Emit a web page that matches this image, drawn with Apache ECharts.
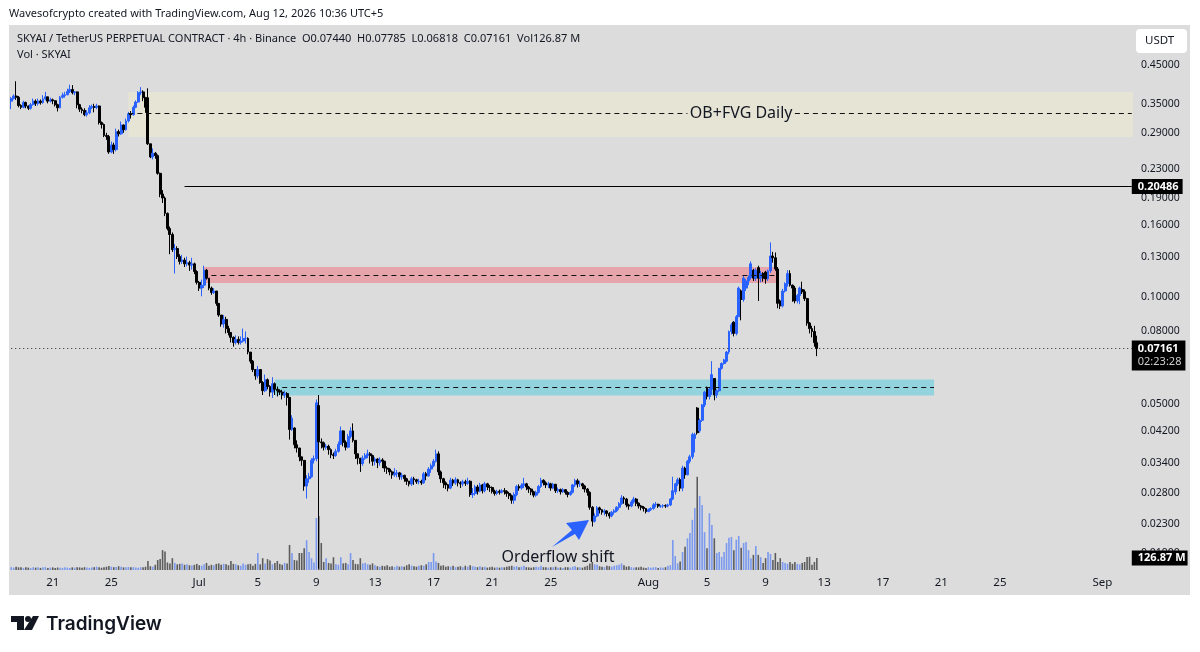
<!DOCTYPE html>
<html><head><meta charset="utf-8">
<style>html,body{margin:0;padding:0;background:#fff}#c{width:1200px;height:652px}</style>
<script src="https://cdn.jsdelivr.net/npm/echarts@6/dist/echarts.min.js"></script>
</head><body><div id="c"></div>
<script>
const closes=[
.3620,.3680,.3650,.3460,.3420,.3530,.3450,.3400,.3480,.3560,
.3510,.3560,.3530,.3610,.3660,.3560,.3590,.3570,.3480,.3410,
.3650,.3690,.3710,.3790,.3840,.3760,.3780,.3480,.3380,.3350,
.3260,.3300,.3410,.3440,.3420,.3450,.3100,.3060,.2850,.2830,
.2560,.2680,.2600,.2920,.2880,.3050,.2960,.3130,.3280,.3260,
.3420,.3540,.3760,.3780,.3640,.3420,.2700,.2480,.2540,.2500,
.2230,.1950,.1900,.1720,.1560,.1500,.1360,.1370,.1300,.1260,
.1270,.1240,.1250,.1230,.1240,.1180,.1100,.1060,.1080,.1190,
.1130,.1060,.1030,.1040,.0960,.0890,.0840,.0865,.0815,.0795,
.0770,.0745,.0760,.0745,.0752,.0765,.0765,.0700,.0660,.0625,
.0600,.0625,.0575,.0545,.0585,.0560,.0540,.0570,.0550,.0545,
.0540,.0530,.0535,.0522,.0424,.0456,.0384,.0376,.0355,.0347,
.0294,.0308,.0312,.0347,.0351,.0504,.0391,.0389,.0378,.0380,
.0372,.0360,.0358,.0368,.0385,.0420,.0390,.0378,.0405,.0420,
.0395,.0362,.0352,.0340,.0352,.0358,.0362,.0358,.0345,.0350,
.0342,.0348,.0345,.0330,.0328,.0322,.0316,.0318,.0320,.0312,
.0315,.0308,.0303,.0298,.0308,.0306,.0302,.0303,.0300,.0318,
.0314,.0328,.0335,.0345,.0362,.0322,.0308,.0300,.0296,.0290,
.0305,.0300,.0306,.0300,.0298,.0302,.0299,.0303,.0278,.0280,
.0292,.0284,.0296,.0285,.0298,.0292,.0291,.0284,.0280,.0284,
.0282,.0285,.0284,.0280,.0276,.0268,.0278,.0293,.0290,.0295,
.0298,.0292,.0288,.0283,.0277,.0282,.0293,.0305,.0300,.0296,
.0298,.0290,.0297,.0285,.0287,.0283,.0287,.0282,.0278,.0282,
.0296,.0304,.0298,.0298,.0294,.0288,.0282,.0256,.0234,.0242,
.0255,.0252,.0248,.0250,.0246,.0242,.0248,.0250,.0256,.0262,
.0272,.0270,.0260,.0258,.0265,.0270,.0263,.0258,.0256,.0254,
.0249,.0252,.0254,.0260,.0261,.0258,.0258,.0259,.0258,.0260,
.0270,.0285,.0298,.0306,.0290,.0330,.0316,.0345,.0355,.0410,
.0410,.0415,.0450,.0497,.0540,.0525,.0550,.0605,.0530,.0545,
.0630,.0650,.0665,.0700,.0800,.0835,.0790,.0880,.1060,.0985,
.1130,.1110,.1135,.1240,.1130,.1190,.1130,.1165,.1130,.1125,
.1185,.1305,.1290,.1200,.0960,.0945,.1040,.1090,.1165,.1080,
.1060,.0975,.1010,.1060,.1035,.0990,.0845,.0815,.0800,.0744,
.07161];
const highs=[
.3660,.3720,.4050,.3680,.3490,.3570,.3550,.3460,.3520,.3620,
.3600,.3620,.3600,.3700,.3780,.3660,.3640,.3620,.3580,.3500,
.3680,.3760,.3780,.3860,.3960,.3950,.3800,.3790,.3500,.3420,
.3400,.3360,.3470,.3480,.3500,.3500,.3460,.3120,.3080,.2900,
.2860,.2740,.2720,.2980,.2960,.3120,.3060,.3180,.3320,.3340,
.3460,.3580,.3800,.3900,.3820,.3660,.3870,.2700,.2620,.2560,
.2520,.2240,.2000,.1920,.1730,.1580,.1520,.1410,.1390,.1320,
.1315,.1290,.1300,.1265,.1290,.1250,.1190,.1110,.1120,.1225,
.1200,.1130,.1070,.1060,.1040,.0960,.0890,.0890,.0880,.0830,
.0795,.0775,.0780,.0775,.0775,.0815,.0800,.0770,.0700,.0665,
.0625,.0640,.0625,.0580,.0605,.0590,.0565,.0595,.0575,.0560,
.0550,.0548,.0545,.0540,.0522,.0465,.0430,.0395,.0376,.0355,
.0347,.0315,.0320,.0352,.0358,.0515,.0530,.0400,.0392,.0386,
.0384,.0375,.0365,.0374,.0392,.0432,.0422,.0395,.0412,.0430,
.0441,.0395,.0362,.0352,.0358,.0364,.0372,.0366,.0360,.0354,
.0352,.0354,.0352,.0346,.0334,.0330,.0325,.0330,.0326,.0322,
.0320,.0316,.0310,.0304,.0312,.0312,.0308,.0308,.0306,.0322,
.0322,.0332,.0340,.0350,.0372,.0368,.0325,.0310,.0303,.0298,
.0310,.0308,.0311,.0308,.0303,.0306,.0306,.0310,.0305,.0290,
.0296,.0296,.0300,.0298,.0302,.0300,.0296,.0293,.0287,.0287,
.0287,.0288,.0290,.0286,.0283,.0278,.0282,.0296,.0297,.0299,
.0310,.0300,.0294,.0290,.0285,.0285,.0296,.0310,.0307,.0303,
.0302,.0300,.0300,.0298,.0291,.0289,.0290,.0288,.0284,.0285,
.0298,.0308,.0308,.0304,.0300,.0296,.0290,.0284,.0258,.0246,
.0258,.0257,.0253,.0253,.0251,.0248,.0250,.0253,.0258,.0265,
.0277,.0275,.0272,.0262,.0268,.0274,.0272,.0264,.0260,.0258,
.0255,.0254,.0256,.0263,.0265,.0262,.0260,.0261,.0261,.0262,
.0272,.0312,.0300,.0310,.0310,.0335,.0333,.0348,.0360,.0415,
.0415,.0490,.0455,.0500,.0545,.0560,.0555,.0660,.0590,.0550,
.0632,.0655,.0670,.0705,.0805,.0845,.0855,.0890,.1070,.1050,
.1150,.1125,.1150,.1260,.1200,.1205,.1225,.1185,.1175,.1185,
.1195,.1425,.1340,.1335,.1215,.0985,.1055,.1100,.1190,.1190,
.1085,.1075,.1020,.1070,.1105,.1050,.0995,.0850,.0830,.0830,
.07785];
const lows=[
.3380,.3600,.3590,.3420,.3380,.3400,.3400,.3360,.3370,.3460,
.3450,.3460,.3480,.3500,.3580,.3510,.3530,.3490,.3440,.3330,
.3400,.3620,.3640,.3700,.3750,.3720,.3700,.3400,.3320,.3290,
.3230,.3220,.3270,.3380,.3310,.3380,.3060,.2980,.2820,.2770,
.2530,.2540,.2530,.2570,.2830,.2860,.2900,.2940,.3100,.3180,
.3240,.3400,.3520,.3700,.3560,.3300,.2680,.2460,.2440,.2450,
.2210,.1910,.1840,.1690,.1540,.1320,.1340,.1165,.1280,.1235,
.1240,.1215,.1220,.1185,.1195,.1160,.1085,.1040,.1005,.1060,
.1120,.1045,.1015,.1020,.0945,.0880,.0825,.0820,.0790,.0780,
.0745,.0725,.0735,.0735,.0735,.0745,.0740,.0690,.0650,.0615,
.0585,.0590,.0570,.0530,.0540,.0550,.0525,.0520,.0530,.0525,
.0530,.0515,.0520,.0495,.0397,.0420,.0375,.0365,.0345,.0335,
.0285,.0271,.0300,.0310,.0340,.0345,.0172,.0375,.0370,.0372,
.0360,.0352,.0350,.0355,.0365,.0385,.0380,.0370,.0375,.0400,
.0390,.0350,.0338,.0322,.0335,.0348,.0352,.0340,.0335,.0336,
.0330,.0335,.0330,.0322,.0318,.0315,.0308,.0312,.0311,.0306,
.0306,.0302,.0296,.0293,.0294,.0296,.0298,.0297,.0296,.0298,
.0305,.0312,.0320,.0332,.0342,.0315,.0300,.0290,.0288,.0284,
.0288,.0294,.0296,.0293,.0290,.0293,.0294,.0296,.0274,.0272,
.0276,.0278,.0282,.0280,.0282,.0286,.0283,.0280,.0276,.0277,
.0278,.0280,.0278,.0274,.0270,.0262,.0262,.0275,.0285,.0287,
.0290,.0286,.0281,.0277,.0273,.0274,.0280,.0290,.0295,.0290,
.0290,.0285,.0288,.0281,.0281,.0278,.0281,.0278,.0273,.0276,
.0280,.0292,.0291,.0292,.0288,.0282,.0276,.0252,.0226,.0232,
.0240,.0246,.0244,.0243,.0241,.0238,.0240,.0244,.0248,.0252,
.0260,.0262,.0256,.0252,.0256,.0262,.0258,.0254,.0251,.0249,
.0246,.0248,.0250,.0252,.0256,.0255,.0255,.0255,.0255,.0256,
.0258,.0268,.0278,.0294,.0284,.0284,.0308,.0315,.0340,.0350,
.0365,.0410,.0415,.0445,.0490,.0515,.0515,.0530,.0512,.0520,
.0540,.0625,.0645,.0655,.0690,.0785,.0775,.0780,.0880,.0860,
.0970,.1040,.1080,.1120,.1110,.1110,.0975,.1100,.1105,.1090,
.1110,.1170,.1250,.1185,.0930,.0925,.0935,.1030,.1070,.1070,
.0970,.0960,.0960,.0955,.1020,.0975,.0830,.0790,.0770,.0725,
.06818];
const gappedOpens=[[0,.3560],[56,.3640],[116,.0428],[126,.0495],[272,.0283],[280,.0400],[281,.0487],[282,.0420],[285,.0555],[288,.0590],[293,.0660],[296,.0850],[299,.1040],[301,.1060],[304,.1190],[306,.1210],[309,.1175],[315,.0975],[324,.1050]];
const volumes=[
30,25,35,28,30,22,30,25,20,28,
25,30,22,28,30,22,25,28,20,26,
24,22,30,25,22,28,25,30,28,24,
30,26,22,28,30,35,28,24,30,35,
42,35,30,32,40,35,28,30,32,28,
30,26,24,30,28,35,95,40,35,55,
105,115,210,195,80,70,125,75,60,65,
70,55,60,50,48,55,65,50,45,60,
75,45,55,50,65,70,55,65,60,50,
95,65,60,50,45,70,55,60,65,45,
65,180,60,125,70,115,100,60,75,95,
65,55,75,70,265,180,105,100,180,180,
230,315,190,125,80,550,570,285,85,125,
75,70,135,60,55,135,70,75,60,180,
105,65,60,125,70,75,60,55,70,50,
40,35,45,40,50,35,40,30,45,35,
40,35,50,60,45,40,35,45,50,45,
60,85,85,180,90,75,45,50,35,40,
35,45,30,35,40,30,45,35,50,40,
35,30,40,30,35,25,30,35,25,30,
25,30,28,35,40,45,35,40,30,35,
45,30,28,25,30,35,30,45,30,28,
25,30,28,35,25,28,22,30,28,25,
35,40,28,30,25,35,45,70,85,60,
55,40,35,30,45,40,35,45,50,55,
70,50,35,40,30,25,30,28,35,25,
22,30,25,28,30,22,28,25,30,45,
50,317,148,70,90,190,245,335,390,530,
655,985,782,687,400,230,600,475,335,180,
190,140,190,285,340,350,210,320,360,235,
285,295,210,125,160,255,160,135,75,125,
190,170,105,180,85,125,85,75,65,85,
65,85,65,60,75,85,137,140,55,85,
126.87];
const priceTicks=[0.45,0.35,0.29,0.23,0.19,0.16,0.13,0.10,0.08,0.05,0.042,0.034,0.028,0.023,0.019];
const dateTickBars=[17,41,77,101,125,149,173,197,221,261,285,309,333,357,381,405,447];
const dateTickLabels=['21','25','Jul','5','9','13','17','21','25','Aug','5','9','13','17','21','25','Sep'];
const barCount=460;
const categories=Array.from({length:barCount},(_,i)=>String(i));

const gapMap=new Map(gappedOpens);
const candles=closes.map((c,i)=>{
  const o=gapMap.has(i)?gapMap.get(i):closes[i-1];
  return [o,c,Math.min(lows[i],o,c),Math.max(highs[i],o,c)];
});
const FONT='"Noto Sans",sans-serif';
const TXT='#131722';
const dashed=(a,b,p)=>[{coord:[a,p]},{coord:[b,p]}];
const text=(x,y,s,o={})=>({type:'text',x,y,z:20,style:Object.assign({text:s,font:'11px '+FONT,fill:TXT,textVerticalAlign:'middle'},o)});

const chart=echarts.init(document.getElementById('c'),null,{renderer:'canvas'});
chart.setOption({
  animation:false,
  backgroundColor:'#ffffff',
  textStyle:{fontFamily:FONT},
  grid:[
    {left:10,width:1123,top:26,height:544},
    {left:10,width:1123,top:470,height:100}
  ],
  xAxis:[
    {type:'category',gridIndex:0,data:categories,boundaryGap:true,axisLine:{show:false},axisTick:{show:false},splitLine:{show:false},
      axisLabel:{interval:i=>dateTickBars.includes(i),hideOverlap:false,margin:7,fontSize:11.5,color:TXT,fontFamily:FONT,
        formatter:(v,i)=>{const k=dateTickBars.indexOf(i);return k<0?'':dateTickLabels[k];}}},
    {type:'category',gridIndex:1,data:categories,show:false}
  ],
  yAxis:[
    {type:'log',gridIndex:0,position:'right',min:0.01705,max:0.5794,logBase:10,axisLine:{show:false},axisTick:{show:false},splitLine:{show:false},minorTick:{show:false},minorSplitLine:{show:false},
      axisLabel:{customValues:priceTicks,margin:8,padding:[2,0,0,0],fontSize:10.5,color:TXT,fontFamily:FONT,formatter:v=>Number(v).toFixed(5)}},
    {type:'value',gridIndex:1,min:0,max:1057,show:false}
  ],
  series:[
    {type:'bar',name:'Vol',xAxisIndex:1,yAxisIndex:1,z:1,barWidth:1.6,silent:true,
      data:volumes.map((v,i)=>({value:v,itemStyle:{color:candles[i][1]>=candles[i][0]?'rgba(41,98,255,0.55)':'rgba(0,0,0,0.58)'}})),
      markLine:{silent:true,symbol:'none',z:30,lineStyle:{color:'transparent',width:0},
        data:[[{coord:[0,126.87],
          label:{show:true,position:'end',distance:0,backgroundColor:'#000',color:'#fff',fontSize:11,fontWeight:'bold',fontFamily:FONT,padding:[2,2,2,6],formatter:'126.87 M'}},
          {coord:[459,126.87]}]]}},
    {type:'candlestick',name:'SKYAI',xAxisIndex:0,yAxisIndex:0,z:3,barWidth:2.4,silent:true,data:candles,
      itemStyle:{color:'#2962ff',color0:'#000000',borderColor:'#2962ff',borderColor0:'#000000',borderWidth:1},
      markArea:{silent:true,data:[
        [{xAxis:48,yAxis:0.3778,itemStyle:{color:'#e6e4d4'}},{yAxis:0.2822}],
        [{xAxis:79,yAxis:0.1215,itemStyle:{color:'#e5a5ab'}},{xAxis:314,yAxis:0.1096}],
        [{xAxis:108,yAxis:0.0586,itemStyle:{color:'#93d3dd'}},{xAxis:378,yAxis:0.0528}]
      ]},
      markLine:{silent:true,symbol:'none',animation:false,label:{show:false},lineStyle:{color:'#111',width:1,type:[5,4]},data:[
        dashed(48,277,0.3286),dashed(321,459,0.3286),
        dashed(82,313,0.1154),
        dashed(111,378,0.0557),
        [{coord:[71,0.20486],lineStyle:{type:'solid',color:'#000',width:1.2},
          label:{show:true,position:'end',distance:0,formatter:'0.20486',backgroundColor:'#000',color:'#fff',fontSize:11,fontWeight:'bold',fontFamily:FONT,padding:[2,4,2,6]}},
         {coord:[459,0.20486]}],
        [{coord:[0,0.07161],lineStyle:{type:[1,3],color:'#222',width:1},
          label:{show:true,position:'end',distance:0,offset:[0,7],formatter:'{a|0.07161}\n{b|02:23:28}',backgroundColor:'#000',padding:[2,4,2,6],
            rich:{a:{color:'#fff',fontSize:11,fontWeight:'bold',fontFamily:FONT,lineHeight:13},b:{color:'#ccc',fontSize:11,fontFamily:FONT,lineHeight:13}}}},
         {coord:[459,0.07161]}]
      ]},
      markPoint:{silent:true,symbol:'circle',symbolSize:0,
        label:{show:true,position:'inside',color:TXT,fontSize:16,fontFamily:FONT},
        data:[
          {name:'zoneLabel',coord:[298.5,0.3286],value:'OB+FVG Daily',label:{formatter:'OB+FVG Daily'}},
          {name:'note',coord:[224.4,0.01855],value:'Orderflow shift',label:{formatter:'Orderflow shift'}}
        ]}}
  ],
  graphic:[
    {type:'rect',z:-10,silent:true,shape:{x:9,y:25,width:1181,height:570},style:{fill:'#dcdcdc'}},
    text(9,14,'Wavesofcrypto created with TradingView.com, Aug 12, 2026 10:36 UTC+5'),
    text(17,39,'SKYAI / TetherUS PERPETUAL CONTRACT · 4h · Binance  O0.07440  H0.07785  L0.06818  C0.07161  Vol126.87 M'),
    text(17,55,'Vol · SKYAI'),
    {type:'rect',z:20,shape:{x:1136,y:29,width:51,height:24,r:4},style:{fill:'#fff'}},
    text(1145,41,'USDT',{font:'11.5px '+FONT}),
    {type:'polygon',z:20,shape:{points:[[589,520],[566,523],[572,530],[552,547],[575,534],[579,540]]},style:{fill:'#2962ff'}},
    {type:'polygon',z:20,shape:{points:[[11,616],[24,616],[24,630],[17,630],[17,622],[11,622]]},style:{fill:'#131722'}},
    {type:'circle',z:20,shape:{cx:28,cy:619,r:3},style:{fill:'#131722'}},
    {type:'polygon',z:20,shape:{points:[[33,616],[39,616],[32,630],[24,630]]},style:{fill:'#131722'}},
    text(46,624,'TradingView',{font:'600 19px Inter,"Noto Sans",sans-serif'})
  ]
});
</script></body></html>
